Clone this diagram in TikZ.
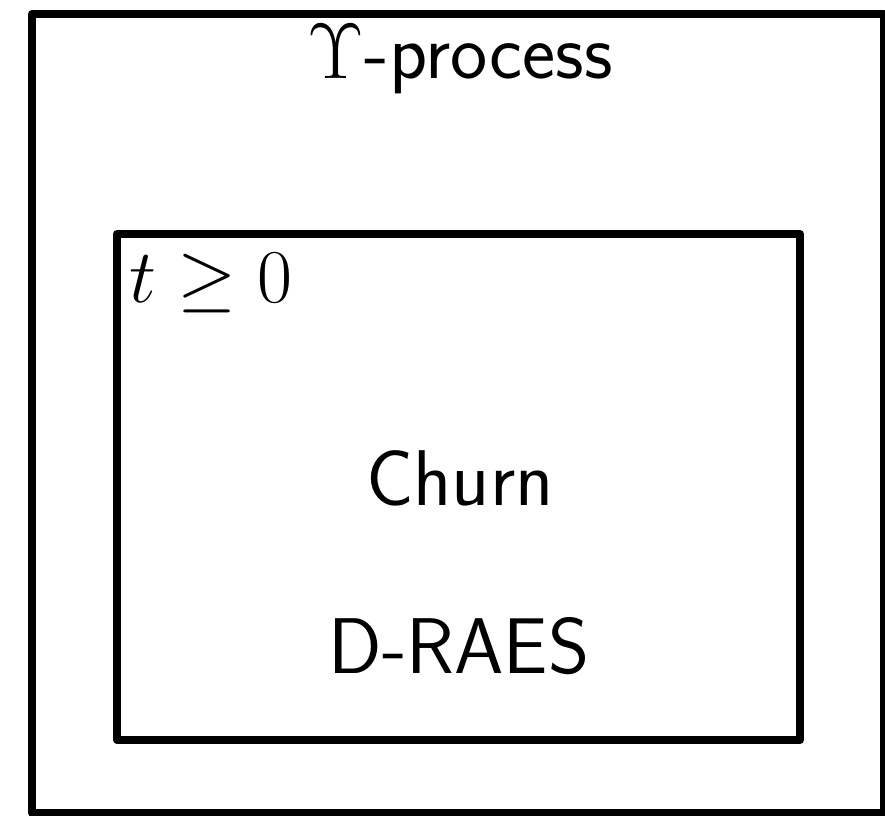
\documentclass[tikz,border=0pt]{standalone}
\usepackage{fix-cm}
\begin{document}
\begin{tikzpicture}[x=1pt,y=-1pt,
  frame/.style={draw=black,line width=8pt,line join=round},
  lbl/.style={font=\fontsize{79}{92}\selectfont\sffamily,inner sep=0pt,anchor=base}]
\useasboundingbox (0,0) rectangle (885,815);
\draw[frame] (32,14) rectangle (884,813);
\draw[frame] (117,234) rectangle (800,740);
\node[lbl] (title) at (460,78) {$\Upsilon$-process};
\node[lbl,anchor=base west,font=\fontsize{76}{90}\selectfont] (time) at (129,302) {$t\geq 0$};
\node[lbl] (churn) at (460,505) {Churn};
\node[lbl] (draes) at (459,673) {D-RAES};
\end{tikzpicture}
\end{document}
